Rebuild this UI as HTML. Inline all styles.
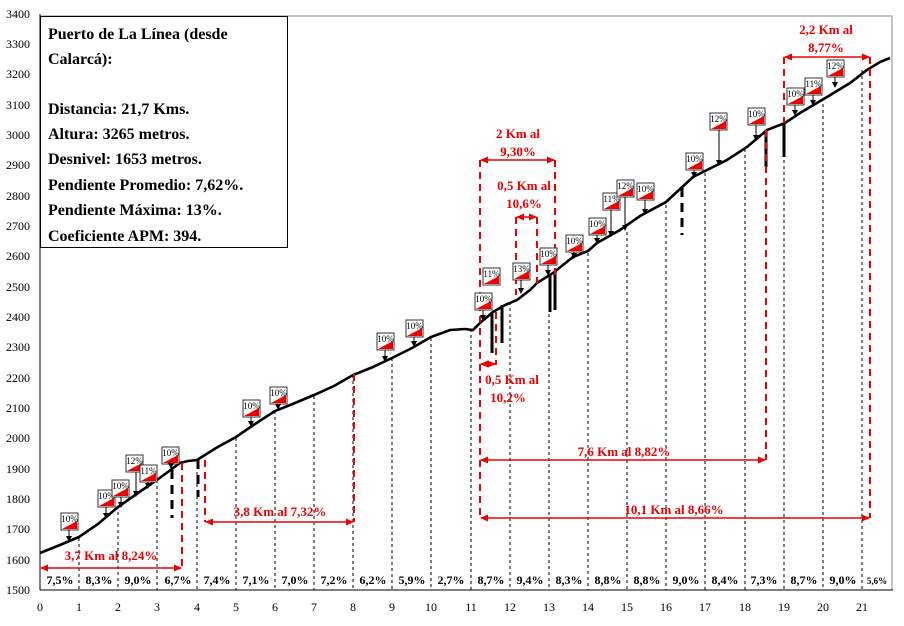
<!DOCTYPE html>
<html><head><meta charset="utf-8"><style>body{margin:0;background:#fff}svg{display:block}</style></head><body>
<svg width="904" height="626" xmlns="http://www.w3.org/2000/svg" font-family="Liberation Serif, serif">
<defs>
<marker id="ar" markerUnits="userSpaceOnUse" markerWidth="8" markerHeight="7" refX="7" refY="3.5" orient="auto-start-reverse"><path d="M0,0L8,3.5L0,7z" fill="#e00"/></marker>
<marker id="ab" markerUnits="userSpaceOnUse" markerWidth="6" markerHeight="6" refX="5" refY="3" orient="auto"><path d="M0,0L6,3L0,6z" fill="#000"/></marker>
<g id="sg"><rect x="0" y="0" width="17" height="17" fill="#fff" stroke="#333" stroke-width="1"/><path d="M1,16L16,16L16,8z" fill="#e00"/></g>
</defs>
<rect x="40" y="16" width="852" height="574" fill="#fff" stroke="#888"/>
<g font-size="12" text-anchor="end">
<text x="30" y="594">1500</text><text x="30" y="564">1600</text><text x="30" y="533">1700</text><text x="30" y="503">1800</text><text x="30" y="473">1900</text><text x="30" y="442">2000</text><text x="30" y="412">2100</text><text x="30" y="382">2200</text><text x="30" y="351">2300</text><text x="30" y="321">2400</text><text x="30" y="291">2500</text><text x="30" y="260">2600</text><text x="30" y="230">2700</text><text x="30" y="200">2800</text><text x="30" y="169">2900</text><text x="30" y="139">3000</text><text x="30" y="109">3100</text><text x="30" y="78">3200</text><text x="30" y="48">3300</text><text x="30" y="18">3400</text>
</g>
<line x1="40" y1="14" x2="40" y2="590" stroke="#000"/>
<line x1="40" y1="590" x2="893" y2="590" stroke="#000"/>
<g font-size="12" text-anchor="middle">
<text x="40" y="611">0</text><text x="79" y="611">1</text><text x="118" y="611">2</text><text x="157" y="611">3</text><text x="197" y="611">4</text><text x="236" y="611">5</text><text x="275" y="611">6</text><text x="314" y="611">7</text><text x="353" y="611">8</text><text x="392" y="611">9</text><text x="431" y="611">10</text><text x="471" y="611">11</text><text x="510" y="611">12</text><text x="549" y="611">13</text><text x="588" y="611">14</text><text x="627" y="611">15</text><text x="666" y="611">16</text><text x="705" y="611">17</text><text x="745" y="611">18</text><text x="784" y="611">19</text><text x="823" y="611">20</text><text x="862" y="611">21</text>
</g>
<g stroke="#000" stroke-dasharray="3,3" stroke-width="1">
<line x1="79" y1="538" x2="79" y2="590"/><line x1="118" y1="506" x2="118" y2="590"/><line x1="157" y1="480" x2="157" y2="590"/><line x1="197" y1="460" x2="197" y2="590"/><line x1="236" y1="438" x2="236" y2="590"/><line x1="275" y1="411" x2="275" y2="590"/><line x1="314" y1="396" x2="314" y2="590"/><line x1="353" y1="375" x2="353" y2="590"/><line x1="392" y1="358" x2="392" y2="590"/><line x1="431" y1="338" x2="431" y2="590"/><line x1="471" y1="329" x2="471" y2="590"/><line x1="510" y1="302" x2="510" y2="590"/><line x1="549" y1="278" x2="549" y2="590"/><line x1="588" y1="253" x2="588" y2="590"/><line x1="627" y1="232" x2="627" y2="590"/><line x1="666" y1="205" x2="666" y2="590"/><line x1="705" y1="173" x2="705" y2="590"/><line x1="745" y1="149" x2="745" y2="590"/><line x1="784" y1="124" x2="784" y2="590"/><line x1="823" y1="98" x2="823" y2="590"/><line x1="862" y1="70" x2="862" y2="590"/>
</g>
<g font-weight="bold" font-size="12" text-anchor="middle">
<text x="60" y="584">7,5%</text><text x="99" y="584">8,3%</text><text x="138" y="584">9,0%</text><text x="178" y="584">6,7%</text><text x="217" y="584">7,4%</text><text x="256" y="584">7,1%</text><text x="295" y="584">7,0%</text><text x="334" y="584">7,2%</text><text x="373" y="584">6,2%</text><text x="412" y="584">5,9%</text><text x="451" y="584">2,7%</text><text x="491" y="584">8,7%</text><text x="530" y="584">9,4%</text><text x="569" y="584">8,3%</text><text x="608" y="584">8,8%</text><text x="647" y="584">8,8%</text><text x="686" y="584">9,0%</text><text x="725" y="584">8,4%</text><text x="764" y="584">7,3%</text><text x="804" y="584">8,7%</text><text x="843" y="584">9,0%</text><text x="877" y="584" font-size="9">5,6%</text>
</g>
<polyline fill="none" stroke="#000" stroke-width="2.6" points="40,553 60,545 79,537 98,524 118,507 138,493 157,480 180,463 188,461 197,460 216,448 236,437 255,424 275,411 295,403 314,395 334,386 353,375 373,367 392,358 412,348 431,337 450,330 465,329 473,330 480,323 493,312 505,305 517,300 530,290 537,283 553,273 573,257 588,251 597,243 620,230 640,216 666,202 693,177 707,170 727,160 747,147 767,130 785,123 800,113 827,97 850,83 867,70 880,62 890,58"/>
<g stroke="#000" stroke-width="3">
<line x1="172" y1="470" x2="172" y2="518" stroke-dasharray="9,6"/><line x1="198" y1="460" x2="198" y2="497" stroke-dasharray="9,6"/>
<line x1="492" y1="312" x2="492" y2="353"/><line x1="502" y1="305" x2="502" y2="343"/><line x1="550" y1="275" x2="550" y2="312"/><line x1="555" y1="272" x2="555" y2="310"/>
<line x1="682" y1="188" x2="682" y2="235" stroke-dasharray="9,6"/><line x1="766" y1="130" x2="766" y2="167"/><line x1="784" y1="123" x2="784" y2="157"/>
</g>
<g stroke="#e00" stroke-width="2" stroke-dasharray="7,5" fill="none">
<line x1="182" y1="463" x2="182" y2="568"/><line x1="205" y1="460" x2="205" y2="522"/><line x1="354" y1="374" x2="354" y2="522"/>
<line x1="480" y1="160" x2="480" y2="518"/><line x1="555" y1="160" x2="555" y2="275"/><line x1="516" y1="217" x2="516" y2="295"/><line x1="537" y1="217" x2="537" y2="283"/><line x1="496" y1="312" x2="496" y2="365"/>
<line x1="766" y1="130" x2="766" y2="460"/><line x1="870" y1="57" x2="870" y2="518"/><line x1="784" y1="57" x2="784" y2="123"/>
</g>
<g stroke="#e00" stroke-width="1.5" marker-start="url(#ar)" marker-end="url(#ar)">
<line x1="41" y1="568" x2="181" y2="568"/><line x1="206" y1="522" x2="353" y2="522"/><line x1="481" y1="160" x2="554" y2="160"/><line x1="517" y1="217" x2="536" y2="217"/><line x1="481" y1="364" x2="495" y2="364"/><line x1="481" y1="460" x2="765" y2="460"/><line x1="481" y1="518" x2="869" y2="518"/><line x1="785" y1="57" x2="869" y2="57"/>
</g>
<g fill="#e00" font-weight="bold" font-size="13" text-anchor="middle">
<text x="111" y="560">3,7 Km al 8,24%</text><text x="280" y="516">3,8 Km al 7,32%</text>
<text x="518" y="138">2 Km al</text><text x="518" y="156">9,30%</text>
<text x="524" y="190">0,5 Km al</text><text x="524" y="208">10,6%</text>
<text x="512" y="384">0,5 Km al</text><text x="508" y="402">10,2%</text>
<text x="624" y="456">7,6 Km al 8,82%</text><text x="674" y="514">10,1 Km al 8,66%</text>
<text x="826" y="34">2,2 Km al</text><text x="826" y="52">8,77%</text>
</g>
<g font-size="9" text-anchor="middle">
<g transform="translate(61,513)"><use href="#sg"/><text x="8.5" y="9">10%</text></g>
<g transform="translate(98,490)"><use href="#sg"/><text x="8.5" y="9">10%</text></g>
<g transform="translate(112,480)"><use href="#sg"/><text x="8.5" y="9">10%</text></g>
<g transform="translate(126,455)"><use href="#sg"/><text x="8.5" y="9">12%</text></g>
<g transform="translate(140,465)"><use href="#sg"/><text x="8.5" y="9">11%</text></g>
<g transform="translate(162,447)"><use href="#sg"/><text x="8.5" y="9">10%</text></g>
<g transform="translate(243,400)"><use href="#sg"/><text x="8.5" y="9">10%</text></g>
<g transform="translate(270,387)"><use href="#sg"/><text x="8.5" y="9">10%</text></g>
<g transform="translate(377,333)"><use href="#sg"/><text x="8.5" y="9">10%</text></g>
<g transform="translate(406,320)"><use href="#sg"/><text x="8.5" y="9">10%</text></g>
<g transform="translate(475,293)"><use href="#sg"/><text x="8.5" y="9">10%</text></g>
<g transform="translate(483,268)"><use href="#sg"/><text x="8.5" y="9">11%</text></g>
<g transform="translate(513,263)"><use href="#sg"/><text x="8.5" y="9">13%</text></g>
<g transform="translate(540,248)"><use href="#sg"/><text x="8.5" y="9">10%</text></g>
<g transform="translate(566,235)"><use href="#sg"/><text x="8.5" y="9">10%</text></g>
<g transform="translate(589,218)"><use href="#sg"/><text x="8.5" y="9">10%</text></g>
<g transform="translate(603,193)"><use href="#sg"/><text x="8.5" y="9">11%</text></g>
<g transform="translate(617,180)"><use href="#sg"/><text x="8.5" y="9">12%</text></g>
<g transform="translate(637,183)"><use href="#sg"/><text x="8.5" y="9">10%</text></g>
<g transform="translate(686,153)"><use href="#sg"/><text x="8.5" y="9">10%</text></g>
<g transform="translate(710,113)"><use href="#sg"/><text x="8.5" y="9">12%</text></g>
<g transform="translate(748,108)"><use href="#sg"/><text x="8.5" y="9">10%</text></g>
<g transform="translate(787,88)"><use href="#sg"/><text x="8.5" y="9">10%</text></g>
<g transform="translate(805,78)"><use href="#sg"/><text x="8.5" y="9">11%</text></g>
<g transform="translate(827,60)"><use href="#sg"/><text x="8.5" y="9">12%</text></g>
</g>
<g stroke="#000" stroke-width="1" marker-end="url(#ab)">
<line x1="69" y1="530" x2="69" y2="541"/><line x1="106" y1="507" x2="106" y2="518"/><line x1="121" y1="497" x2="121" y2="507"/><line x1="136" y1="472" x2="136" y2="496"/><line x1="148" y1="482" x2="148" y2="488"/><line x1="171" y1="464" x2="171" y2="468"/>
<line x1="251" y1="417" x2="251" y2="426"/><line x1="278" y1="404" x2="278" y2="409"/><line x1="385" y1="350" x2="385" y2="361"/><line x1="414" y1="337" x2="414" y2="346"/><line x1="483" y1="310" x2="483" y2="320"/><line x1="521" y1="280" x2="521" y2="293"/><line x1="548" y1="265" x2="548" y2="275"/><line x1="574" y1="252" x2="574" y2="258"/><line x1="597" y1="235" x2="597" y2="243"/><line x1="611" y1="210" x2="611" y2="236"/><line x1="625" y1="197" x2="625" y2="230"/><line x1="645" y1="200" x2="645" y2="214"/><line x1="694" y1="170" x2="694" y2="177"/><line x1="719" y1="130" x2="719" y2="165"/><line x1="756" y1="125" x2="756" y2="140"/><line x1="795" y1="105" x2="795" y2="115"/><line x1="813" y1="95" x2="813" y2="105"/><line x1="835" y1="77" x2="835" y2="87"/>
</g>
<rect x="40.5" y="16.5" width="247" height="231" fill="#fff" stroke="#000"/>
<g font-weight="bold" font-size="16">
<text x="48" y="39">Puerto de La Línea (desde</text><text x="48" y="64">Calarcá):</text>
<text x="48" y="114">Distancia: 21,7 Kms.</text><text x="48" y="139">Altura: 3265 metros.</text><text x="48" y="164">Desnivel: 1653 metros.</text><text x="48" y="190">Pendiente Promedio: 7,62%.</text><text x="48" y="215">Pendiente Máxima: 13%.</text><text x="48" y="241">Coeficiente APM: 394.</text>
</g>
</svg>
</body></html>
